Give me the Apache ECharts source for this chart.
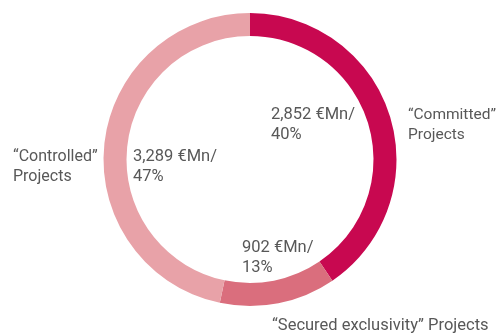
<!DOCTYPE html>
<html>
<head>
<meta charset="utf-8">
<script src="https://cdn.jsdelivr.net/npm/echarts@6/dist/echarts.min.js"></script>
<style>
  html, body { margin: 0; padding: 0; background: #ffffff; }
  #chart { width: 498px; height: 335px; }
</style>
</head>
<body>
<div id="chart"></div>
<script>
// Project pipeline split by status (€ million)
const categories = ['“Committed”\nProjects', '“Secured exclusivity” Projects', '“Controlled”\nProjects'];
const values = [2852, 902, 3289];
const unit = '€Mn';
const colors = ['#C80850', '#DA6E7D', '#E8A2A8'];

// top-left anchors for the value labels (inside the ring) and the name labels (outside)
const valueLabelPos = [[271, 105], [242, 238], [133, 147]];
const nameLabelPos = [[408, 105], [272, 316], [13, 147]];
// the two-line names sit close to the ring / page edge, so they use a slightly smaller size
const nameFontSize = [15.5, 16.5, 16];

const textStyle = {
  color: '#585858',
  fontFamily: 'Roboto, "Liberation Sans", sans-serif',
  fontSize: 16.5,
  lineHeight: 20
};

const data = categories.map((name, i) => ({
  name: name,
  value: values[i],
  itemStyle: { color: colors[i] }
}));

const common = {
  type: 'pie',
  center: [250, 159.5],
  radius: [123.5, 146.5],
  startAngle: 90,
  clockwise: true,
  avoidLabelOverlap: false,
  percentPrecision: 0,
  labelLine: { show: false },
  emphasis: { disabled: true },
  silent: true
};

const chart = echarts.init(document.getElementById('chart'), null, { renderer: 'canvas' });
chart.setOption({
  animation: false,
  backgroundColor: '#ffffff',
  series: [
    Object.assign({}, common, {
      name: 'values',
      data: data,
      itemStyle: { borderWidth: 0 },
      label: Object.assign({
        show: true,
        position: 'outside',
        formatter: p => echarts.format.addCommas(p.value) + ' ' + unit + '/\n' + p.percent + '%'
      }, textStyle),
      labelLayout: p => ({
        x: valueLabelPos[p.dataIndex][0],
        y: valueLabelPos[p.dataIndex][1],
        align: 'left',
        verticalAlign: 'top'
      })
    }),
    Object.assign({}, common, {
      name: 'names',
      data: data.map((d, i) => ({
        name: d.name,
        value: d.value,
        itemStyle: { color: 'rgba(0,0,0,0)' },
        label: { fontSize: nameFontSize[i] }
      })),
      label: Object.assign({
        show: true,
        position: 'outside',
        formatter: p => p.name
      }, textStyle),
      labelLayout: p => ({
        x: nameLabelPos[p.dataIndex][0],
        y: nameLabelPos[p.dataIndex][1],
        align: 'left',
        verticalAlign: 'top'
      })
    })
  ]
});
</script>
</body>
</html>
